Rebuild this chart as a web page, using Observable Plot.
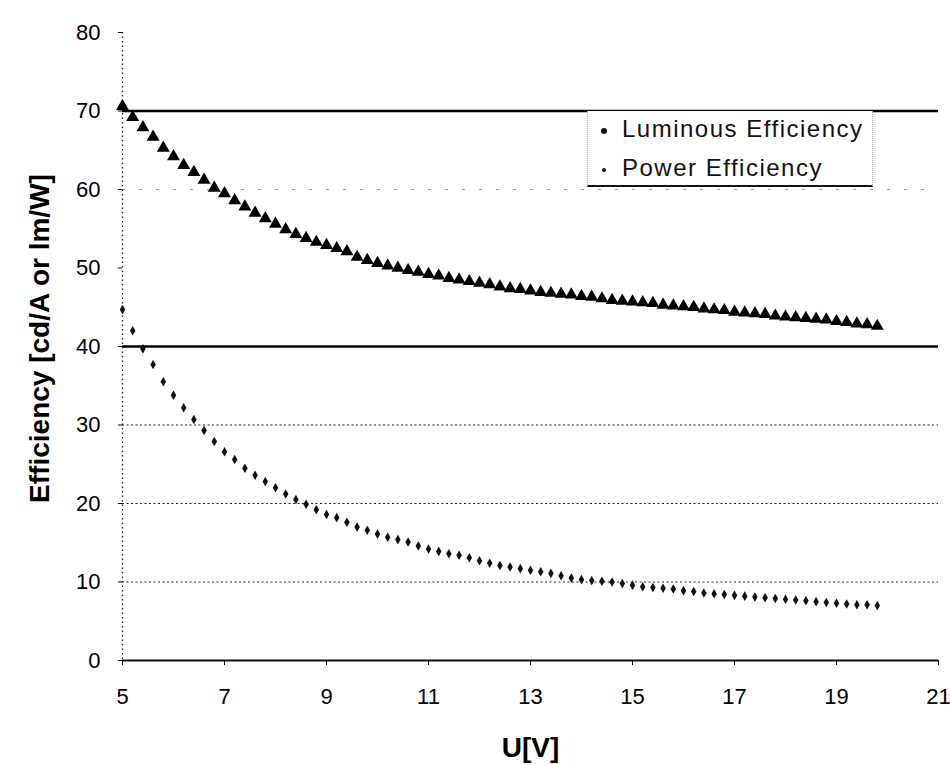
<!DOCTYPE html>
<html><head><meta charset="utf-8">
<script src="https://cdn.jsdelivr.net/npm/d3@7"></script>
<script src="https://cdn.jsdelivr.net/npm/@observablehq/plot@0.6"></script>
<style>
body{margin:0;background:#fff;}
#wrap{position:relative;width:950px;height:765px;font-family:"Liberation Sans",Arial,sans-serif;}
#legend{position:absolute;left:587px;top:111px;width:286px;height:76px;background:#fff;border-bottom:2px solid #111;border-left:1px dotted #aaa;border-right:1px dotted #aaa;box-sizing:border-box;}
.item{position:absolute;left:0;font-size:24px;color:#111;white-space:nowrap;}
.item .t{position:absolute;left:34px;top:0;line-height:24px;letter-spacing:1.5px;}
.item .m{position:absolute;border-radius:50%;background:#111;}
</style></head>
<body><div id="wrap"><div id="chart"></div><div id="legend"></div></div>
<script>
const U = [5.0,5.2,5.4,5.6,5.8,6.0,6.2,6.4,6.6,6.8,
  7.0,7.2,7.4,7.6,7.8,8.0,8.2,8.4,8.6,8.8,
  9.0,9.2,9.4,9.6,9.8,10.0,10.2,10.4,10.6,10.8,
  11.0,11.2,11.4,11.6,11.8,12.0,12.2,12.4,12.6,12.8,
  13.0,13.2,13.4,13.6,13.8,14.0,14.2,14.4,14.6,14.8,
  15.0,15.2,15.4,15.6,15.8,16.0,16.2,16.4,16.6,16.8,
  17.0,17.2,17.4,17.6,17.8,18.0,18.2,18.4,18.6,18.8,
  19.0,19.2,19.4,19.6,19.8];
const luminous = [70.6,69.2,67.9,66.7,65.3,64.2,63.1,62.2,61.2,60.2,
  59.5,58.6,57.8,57.0,56.3,55.6,54.9,54.3,53.8,53.3,
  52.9,52.5,52.1,51.4,51.0,50.6,50.3,50.0,49.7,49.5,
  49.2,49.0,48.7,48.5,48.3,48.1,47.9,47.6,47.4,47.3,
  47.1,46.9,46.8,46.7,46.6,46.4,46.3,46.1,45.9,45.8,
  45.7,45.6,45.5,45.3,45.2,45.1,45.0,44.8,44.7,44.6,
  44.4,44.3,44.2,44.1,43.9,43.8,43.7,43.6,43.5,43.4,
  43.2,43.1,42.9,42.8,42.6];
const power = [44.7,42.0,39.7,37.7,35.5,33.8,32.2,30.7,29.3,27.9,
  26.6,25.6,24.5,23.6,22.8,22.0,21.2,20.5,19.9,19.2,
  18.6,18.2,17.6,17.0,16.6,16.1,15.7,15.4,15.1,14.6,
  14.2,13.9,13.6,13.4,13.1,12.7,12.4,12.1,11.9,11.7,
  11.5,11.3,11.1,10.8,10.5,10.3,10.2,10.1,10.0,9.8,
  9.6,9.4,9.3,9.2,9.1,8.9,8.8,8.6,8.5,8.4,
  8.3,8.2,8.1,8.0,7.9,7.8,7.7,7.6,7.5,7.4,
  7.3,7.2,7.1,7.1,7.0];
const seriesNames = ["Luminous Efficiency", "Power Efficiency"];
const xTicks = [5,7,9,11,13,15,17,19,21];
const yTicks = [0,10,20,30,40,50,60,70,80];
const solidGrid = [40,70];
const dottedGrid = [10,20,30];
const faintGrid = [60];
const xLabel = "U[V]";
const yLabel = "Efficiency [cd/A or lm/W]";

const lumData = U.map((u,i)=>({u, v: luminous[i]}));
const powData = U.map((u,i)=>({u, v: power[i]}));

const chart = Plot.plot({
  width: 950, height: 765,
  marginLeft: 122, marginRight: 12, marginTop: 32, marginBottom: 105,
  style: {fontFamily: "'Liberation Sans', Arial, sans-serif", background: "#fff"},
  x: {domain: [5,21]},
  y: {domain: [0,80]},
  marks: [
    Plot.ruleY(faintGrid, {stroke: "#555", strokeWidth: 1, strokeDasharray: "3,14", strokeOpacity: 0.6}),
    Plot.ruleY(dottedGrid, {stroke: "#222", strokeWidth: 1.2, strokeDasharray: "2,2.5"}),
    Plot.ruleY(solidGrid, {stroke: "#000", strokeWidth: 2.6}),
    Plot.ruleX([5], {stroke: "#222", strokeWidth: 1.3, strokeDasharray: "1.5,3"}),
    Plot.ruleY([0], {stroke: "#111", strokeWidth: 2}),
    Plot.axisX({ticks: xTicks, tickSize: 5, tickPadding: 23, fontSize: 22, label: null, tickFormat: d => d, fill: "#000"}),
    Plot.axisY({ticks: yTicks, tickSize: 4, tickPadding: 18, fontSize: 22, label: null, tickFormat: d => d, fill: "#000"}),
    Plot.dot(lumData, {x: "u", y: "v", symbol: "triangle", r: 4.8, fill: "#000", stroke: "none"}),
    Plot.dot(powData, {x: "u", y: "v", symbol: "diamond", r: 2.9, fill: "#111", stroke: "none"}),
    Plot.text([yLabel], {frameAnchor: "left", textAnchor: "middle", lineAnchor: "middle", dx: -82, dy: -8, rotate: -90, fontSize: 28, fontWeight: "bold", fill: "#000"}),
    Plot.text([xLabel], {frameAnchor: "bottom", textAnchor: "middle", lineAnchor: "middle", dy: 88, fontSize: 28, fontWeight: "bold", fill: "#000"})
  ]
});
document.getElementById("chart").appendChild(chart);

const legend = document.getElementById("legend");
const markSizes = [6, 4];
const rowTops = [6, 45];
seriesNames.forEach((name, i) => {
  const item = document.createElement("div");
  item.className = "item";
  item.style.top = rowTops[i] + "px";
  item.style.width = "280px";
  const m = document.createElement("div");
  m.className = "m";
  m.style.width = markSizes[i] + "px";
  m.style.height = markSizes[i] + "px";
  m.style.left = (16 - markSizes[i]/2) + "px";
  m.style.top = (14 - markSizes[i]/2) + "px";
  const t = document.createElement("div");
  t.className = "t";
  t.textContent = name;
  item.appendChild(m); item.appendChild(t);
  legend.appendChild(item);
});
</script></body></html>
